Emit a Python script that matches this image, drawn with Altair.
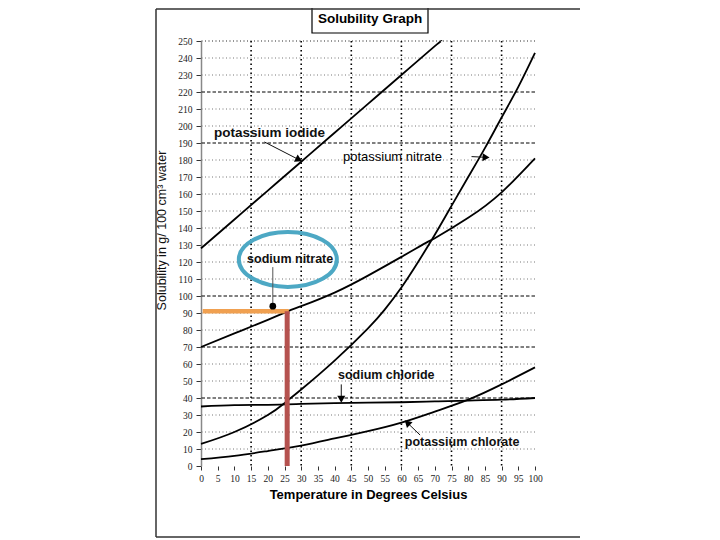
import math
import altair as alt
import pandas as pd

# ---- data ----
ki_t = [0, 10, 20, 30, 40, 50, 60, 70, 72]
ki_s = [128, 145, 162, 179, 196, 213, 230, 247, 250]

kno3_t = [0, 10, 20, 25, 30, 40, 50, 55, 60, 65, 70, 75, 80, 85, 90, 95, 100]
kno3_s = [13, 20, 30, 37, 45, 62, 81, 92, 105, 120, 136, 153, 170, 187, 205, 223, 243]

nano3_t = [0, 10, 20, 26, 30, 40, 50, 60, 68, 70, 80, 90, 100]
nano3_s = [70, 78, 86, 91, 94, 102, 112, 123, 132, 134, 146, 161, 181]

nacl_t = [0, 10, 20, 30, 40, 50, 60, 70, 80, 90, 100]
nacl_s = [35, 35.8, 36, 36.5, 37, 37.3, 37.5, 38, 38.5, 39, 40]

kclo3_t = [0, 10, 20, 30, 40, 50, 60, 70, 80, 90, 100]
kclo3_s = [4, 6, 8.8, 12, 16.2, 20.5, 25.5, 32, 39, 48, 58]

x_ticks = list(range(0, 101, 5))
y_ticks = list(range(0, 251, 10))
dashed_y = [40, 70, 100, 190, 220]
dotted_y = [v for v in y_ticks if v not in dashed_y and v > 0]
bold_x = [15, 30, 45, 60, 75, 90]

label_text = ["potassium iodide", "potassium nitrate", "sodium nitrate", "sodium chloride", "potassium chlorate"]
label_x = [3.9, 42.5, 13.8, 41, 61]
label_y = [196, 182, 121.8, 53.5, 14]

arrow_x1 = [19, 81, 42, 65.6]
arrow_y1 = [190.6, 182, 48, 18.2]
arrow_x2 = [29, 85, 42, 62]
arrow_y2 = [180.5, 181.6, 40, 25]

pointer_x = [21.5, 21.5]
pointer_y = [117, 94]

study_temp = 26
study_sol = 91

W, H = 334, 425
XS, YS = W / 100.0, H / 250.0

xscale = alt.Scale(domain=[0, 100], nice=False, zero=True)
yscale = alt.Scale(domain=[0, 250], nice=False, zero=True)

x_axis = alt.Axis(values=x_ticks, grid=False, domain=False, tickSize=4, tickColor="#333",
                  labelOverlap=False, labelFlush=False,
                  labelFont="Liberation Serif", labelFontSize=9.5, labelColor="#222", labelPadding=3,
                  title="Temperature in Degrees Celsius", titleFont="Liberation Sans",
                  titleFontSize=13, titleFontWeight="bold", titlePadding=6, titleColor="#000")
y_axis = alt.Axis(values=y_ticks, grid=False, domainColor="#888", domainWidth=1.5, tickSize=5,
                  tickColor="#333", labelOverlap=False, labelFlush=False,
                  labelFont="Liberation Serif", labelFontSize=9.5,
                  labelColor="#222", labelPadding=4,
                  title="Solubility in g/ 100 cm³ water", titleFont="Liberation Sans",
                  titleFontSize=12.5, titleFontWeight="normal", titleColor="#111",
                  titleX=-33, titleY=189)


def X(f):
    return alt.X(f, scale=xscale, axis=x_axis)


def Y(f):
    return alt.Y(f, scale=yscale, axis=y_axis)


rows = []
for name, ts, ss in [("KI", ki_t, ki_s), ("KNO3", kno3_t, kno3_s), ("NaNO3", nano3_t, nano3_s),
                     ("NaCl", nacl_t, nacl_s), ("KClO3", kclo3_t, kclo3_s)]:
    for t, s in zip(ts, ss):
        rows.append({"series": name, "t": t, "s": s})
curves_df = pd.DataFrame(rows)

# grid
g_dot = alt.Chart(pd.DataFrame({"v": dotted_y + [250]})).mark_rule(
    color="#666", strokeDash=[1, 2.5], strokeWidth=0.9).encode(y=Y("v:Q"))
g_dash = alt.Chart(pd.DataFrame({"v": dashed_y})).mark_rule(
    color="#000", strokeDash=[3.5, 2], strokeWidth=1).encode(y=Y("v:Q"))
g_vert = alt.Chart(pd.DataFrame({"v": bold_x})).mark_rule(
    color="#000", strokeDash=[1.5, 3], strokeWidth=1.6).encode(x=X("v:Q"))

curves = alt.Chart(curves_df).mark_line(color="black", strokeWidth=1.8, interpolate="natural").encode(
    x=X("t:Q"), y=Y("s:Q"), detail="series:N", order="t:Q",
)

# labels
labels_df = pd.DataFrame({"text": label_text, "x": label_x, "y": label_y,
                          "w": ["bold", "normal", "bold", "bold", "bold"],
                          "fs": [13.5, 13, 12.5, 12.5, 12.5]})
labels_bold = alt.Chart(labels_df[labels_df.w == "bold"]).mark_text(
    align="left", baseline="middle", font="Liberation Sans", fontWeight="bold", fontSize=12.5, color="#111"
).encode(x=X("x:Q"), y=Y("y:Q"), text="text:N",
         size=alt.Size("fs:Q", scale=None, legend=None))
labels_norm = alt.Chart(labels_df[labels_df.w == "normal"]).mark_text(
    align="left", baseline="middle", font="Liberation Sans", fontSize=13, fontWeight=500, color="#000"
).encode(x=X("x:Q"), y=Y("y:Q"), text="text:N")

# arrows
arow = []
heads = []
for i, (x1, y1, x2, y2) in enumerate(zip(arrow_x1, arrow_y1, arrow_x2, arrow_y2)):
    arow.append({"id": i, "o": 0, "x": x1, "y": y1})
    arow.append({"id": i, "o": 1, "x": x2, "y": y2})
    dx = (x2 - x1) * XS
    dyd = -(y2 - y1) * YS
    ang = math.degrees(math.atan2(dx, -dyd)) % 360
    heads.append({"x": x2, "y": y2, "a": ang})
shafts = alt.Chart(pd.DataFrame(arow)).mark_line(color="#111", strokeWidth=1).encode(
    x=X("x:Q"), y=Y("y:Q"), detail="id:N", order="o:Q")
arrowheads = alt.Chart(pd.DataFrame(heads)).mark_point(
    shape="triangle", filled=True, color="#000", size=65, opacity=1).encode(
    x=X("x:Q"), y=Y("y:Q"), angle=alt.Angle("a:Q", scale=None))

ptr_df = pd.DataFrame({"x": pointer_x, "y": pointer_y, "o": [0, 1]})
pointer = alt.Chart(ptr_df).mark_line(color="#555", strokeWidth=1).encode(
    x=X("x:Q"), y=Y("y:Q"), order="o:Q")
pointer_dot = alt.Chart(ptr_df.iloc[[1]]).mark_point(filled=True, color="#000", size=45, opacity=1).encode(
    x=X("x:Q"), y=Y("y:Q"))

# study annotations (orange horizontal, red vertical)
orange = alt.Chart(pd.DataFrame({"x": [0.5], "x2": [study_temp + 0.3], "y": [study_sol]})).mark_rule(
    color="#F0A050", strokeWidth=4.5).encode(x=X("x:Q"), x2="x2:Q", y=Y("y:Q"))
red = alt.Chart(pd.DataFrame({"x": [study_temp - 0.2], "y": [0], "y2": [study_sol]})).mark_rule(
    color="#B5524F", strokeWidth=5).encode(x=X("x:Q"), y=Y("y:Q"), y2="y2:Q")

# hand-drawn style ellipse around "sodium nitrate"
ellipse = alt.Chart(pd.DataFrame({"x": [26], "y": [121.5]})).mark_point(
    shape="M -1 0 A 1 0.56 0 1 1 1 0 A 1 0.56 0 1 1 -1 0 Z", size=98 * 98,
    filled=False, stroke="#4DA8C4", strokeWidth=4, opacity=1).encode(x=X("x:Q"), y=Y("y:Q"))

# title box and frame
one = pd.DataFrame({"a": [0]})
title_box = alt.Chart(one).mark_rect(fill="white", stroke="#000", strokeWidth=1.2).encode(
    x=alt.value(111), x2=alt.value(227), y=alt.value(-36), y2=alt.value(-8))
title_txt = alt.Chart(one).mark_text(font="Liberation Sans", fontWeight="bold", fontSize=13.5,
                                     color="#000", align="center", baseline="middle").encode(
    x=alt.value(169), y=alt.value(-22), text=alt.value("Solubility Graph"))
frame_top = alt.Chart(one).mark_rule(color="#333", strokeWidth=1.5).encode(
    x=alt.value(-45), x2=alt.value(379), y=alt.value(-32))
frame_bot = alt.Chart(one).mark_rule(color="#333", strokeWidth=1.5).encode(
    x=alt.value(-45), x2=alt.value(379), y=alt.value(496))
frame_left = alt.Chart(one).mark_rule(color="#333", strokeWidth=1.5).encode(
    x=alt.value(-45), y=alt.value(-32), y2=alt.value(496))

chart = alt.layer(
    g_dot, g_dash, g_vert, curves, orange, red, ellipse,
    labels_bold, labels_norm, shafts, arrowheads, pointer, pointer_dot,
    title_box, title_txt, frame_top, frame_bot, frame_left,
).properties(
    width=W, height=H,
    padding={"left": 193, "top": 33, "right": 170, "bottom": 72},
    autosize=alt.AutoSizeParams(type="none"),
    background="white",
).configure_view(stroke=None)

chart.save("out.html", embed_options={"renderer": "svg", "actions": False})
